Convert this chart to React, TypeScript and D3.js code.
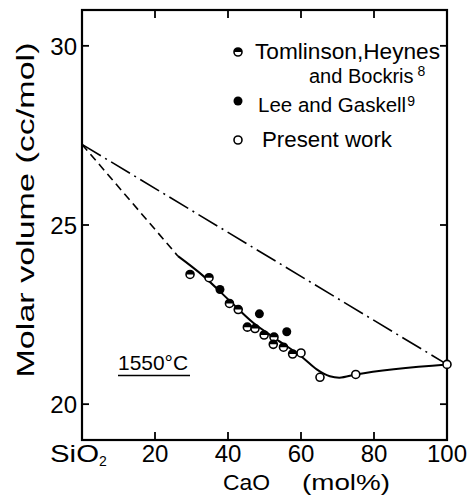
import React from "react";
import * as d3 from "d3";

const W = 470;
const H = 495;

// Tick values
const xTicks = [20, 40, 60, 80, 100];
const xInnerTicks = [20, 40, 60, 80];
const yTicks = [20, 25, 30];

// Data: Tomlinson, Heynes and Bockris (half-filled)
const tomCaO = [29.6, 34.8, 40.4, 42.8, 45.3, 47.4, 49.9, 52.6, 52.4, 55.2, 57.7];
const tomV = [23.62, 23.53, 22.81, 22.64, 22.15, 22.11, 21.93, 21.87, 21.67, 21.59, 21.4];
// Lee and Gaskell (filled)
const leeCaO = [37.8, 48.6, 56.1];
const leeV = [23.2, 22.52, 22.02];
// Present work (open)
const presCaO = [60, 65.2, 75, 100];
const presV = [21.43, 20.75, 20.83, 21.11];

// Fitted solid curve
const fitCaO = [26.3, 33.2, 40.5, 46.9, 53.3, 60.6, 64.3, 67.9, 70.5, 75, 100];
const fitV = [24.13, 23.58, 22.88, 22.27, 21.81, 21.29, 20.97, 20.78, 20.74, 20.83, 21.11];
// Dashed extrapolation
const dashCaO = [0, 26.3];
const dashV = [27.25, 24.13];
// Dash-dot ideal line
const ddCaO = [0, 100];
const ddV = [27.25, 21.11];

const FONT = "'Liberation Sans', Arial, sans-serif";

export default function App() {
  const x = d3.scaleLinear().domain([0, 100]).range([82, 447]);
  const y = d3.scaleLinear().domain([19, 31]).range([440, 10]);

  const line = d3
    .line<[number, number]>()
    .x((d) => x(d[0]))
    .y((d) => y(d[1]));
  const curve = d3
    .line<[number, number]>()
    .x((d) => x(d[0]))
    .y((d) => y(d[1]))
    .curve(d3.curveMonotoneX);

  const zip = (a: number[], b: number[]) => a.map((v, i) => [v, b[i]] as [number, number]);

  const r = 4;
  const halfPath = (cx: number, cy: number) =>
    `M${cx - r},${cy} A${r},${r} 0 0 1 ${cx + r},${cy} Z`;

  const HalfSym = ({ cx, cy }: { cx: number; cy: number }) => (
    <g>
      <circle cx={cx} cy={cy} r={r} fill="#fff" stroke="#000" strokeWidth={1.6} />
      <path d={halfPath(cx, cy)} fill="#000" />
    </g>
  );

  const x0 = x(0), x1 = x(100), y0 = y(19), y1 = y(31);

  return (
    <svg
      width={W}
      height={H}
      style={{ position: "absolute", left: 0, top: 0, background: "#fff" }}
      fontFamily={FONT}
    >
      <rect x={0} y={0} width={W} height={H} fill="#fff" />
      {/* frame */}
      <rect x={x0} y={y1} width={x1 - x0} height={y0 - y1} fill="none" stroke="#000" strokeWidth={2.2} />
      {/* ticks */}
      {xInnerTicks.map((t) => (
        <g key={"xt" + t}>
          <line x1={x(t)} x2={x(t)} y1={y0} y2={y0 - 8} stroke="#000" strokeWidth={1.8} />
          <line x1={x(t)} x2={x(t)} y1={y1} y2={y1 + 8} stroke="#000" strokeWidth={1.8} />
        </g>
      ))}
      {yTicks.map((t) => (
        <g key={"yt" + t}>
          <line x1={x0} x2={x0 + 7} y1={y(t)} y2={y(t)} stroke="#000" strokeWidth={1.8} />
          <line x1={x1} x2={x1 - 7} y1={y(t)} y2={y(t)} stroke="#000" strokeWidth={1.8} />
        </g>
      ))}
      {/* tick labels */}
      {xTicks.map((t) => (
        <text key={"xl" + t} x={x(t)} y={462} fontSize={24} textAnchor="middle">
          {t}
        </text>
      ))}
      <text x={50} y={462} fontSize={24}>
        <tspan textLength={49} lengthAdjust="spacingAndGlyphs">SiO</tspan>
        <tspan fontSize={14} dy={4}>2</tspan>
      </text>
      {yTicks.map((t) => (
        <text key={"yl" + t} x={77} y={y(t) + 9} fontSize={24} textAnchor="end">
          {t}
        </text>
      ))}
      {/* axis titles */}
      <text x={223} y={490} fontSize={22} textLength={47} lengthAdjust="spacingAndGlyphs">
        CaO
      </text>
      <text x={302} y={490} fontSize={22} textLength={88} lengthAdjust="spacingAndGlyphs">
        (mol%)
      </text>
      <text
        transform={`translate(34, 210) rotate(-90)`}
        fontSize={23}
        textAnchor="middle"
        textLength={335}
        lengthAdjust="spacingAndGlyphs"
      >
        Molar  volume  (cc/mol)
      </text>
      {/* 1550°C */}
      <text x={118} y={370} fontSize={21} textLength={70} lengthAdjust="spacingAndGlyphs">
        1550°C
      </text>
      <line x1={118} x2={190} y1={375.5} y2={375.5} stroke="#000" strokeWidth={1.5} />

      {/* lines */}
      <path d={line(zip(ddCaO, ddV)) || ""} fill="none" stroke="#000" strokeWidth={1.6} strokeDasharray="22 5 2 5" />
      <path d={line(zip(dashCaO, dashV)) || ""} fill="none" stroke="#000" strokeWidth={1.6} strokeDasharray="8 5" />
      <path d={curve(zip(fitCaO, fitV)) || ""} fill="none" stroke="#000" strokeWidth={2} />

      {/* points */}
      {tomCaO.map((c, i) => (
        <HalfSym key={"tom" + i} cx={x(c)} cy={y(tomV[i])} />
      ))}
      {leeCaO.map((c, i) => (
        <circle key={"lee" + i} cx={x(c)} cy={y(leeV[i])} r={r + 0.5} fill="#000" />
      ))}
      {presCaO.map((c, i) => (
        <circle key={"pr" + i} cx={x(c)} cy={y(presV[i])} r={r} fill="#fff" stroke="#000" strokeWidth={1.6} />
      ))}

      {/* legend */}
      <HalfSym cx={238} cy={52} />
      <text x={255} y={59} fontSize={22} textLength={185} lengthAdjust="spacingAndGlyphs">
        Tomlinson,Heynes
      </text>
      <text x={309} y={83} fontSize={20}>
        and Bockris
        <tspan fontSize={14} dx={4} dy={-7}>8</tspan>
      </text>
      <circle cx={238} cy={101} r={r + 0.5} fill="#000" />
      <text x={258} y={112} fontSize={20.5}>
        Lee and Gaskell
        <tspan fontSize={14} dx={1} dy={-6}>9</tspan>
      </text>
      <circle cx={238} cy={140} r={r} fill="#fff" stroke="#000" strokeWidth={1.6} />
      <text x={262} y={147} fontSize={22} textLength={130} lengthAdjust="spacingAndGlyphs">
        Present work
      </text>
    </svg>
  );
}
